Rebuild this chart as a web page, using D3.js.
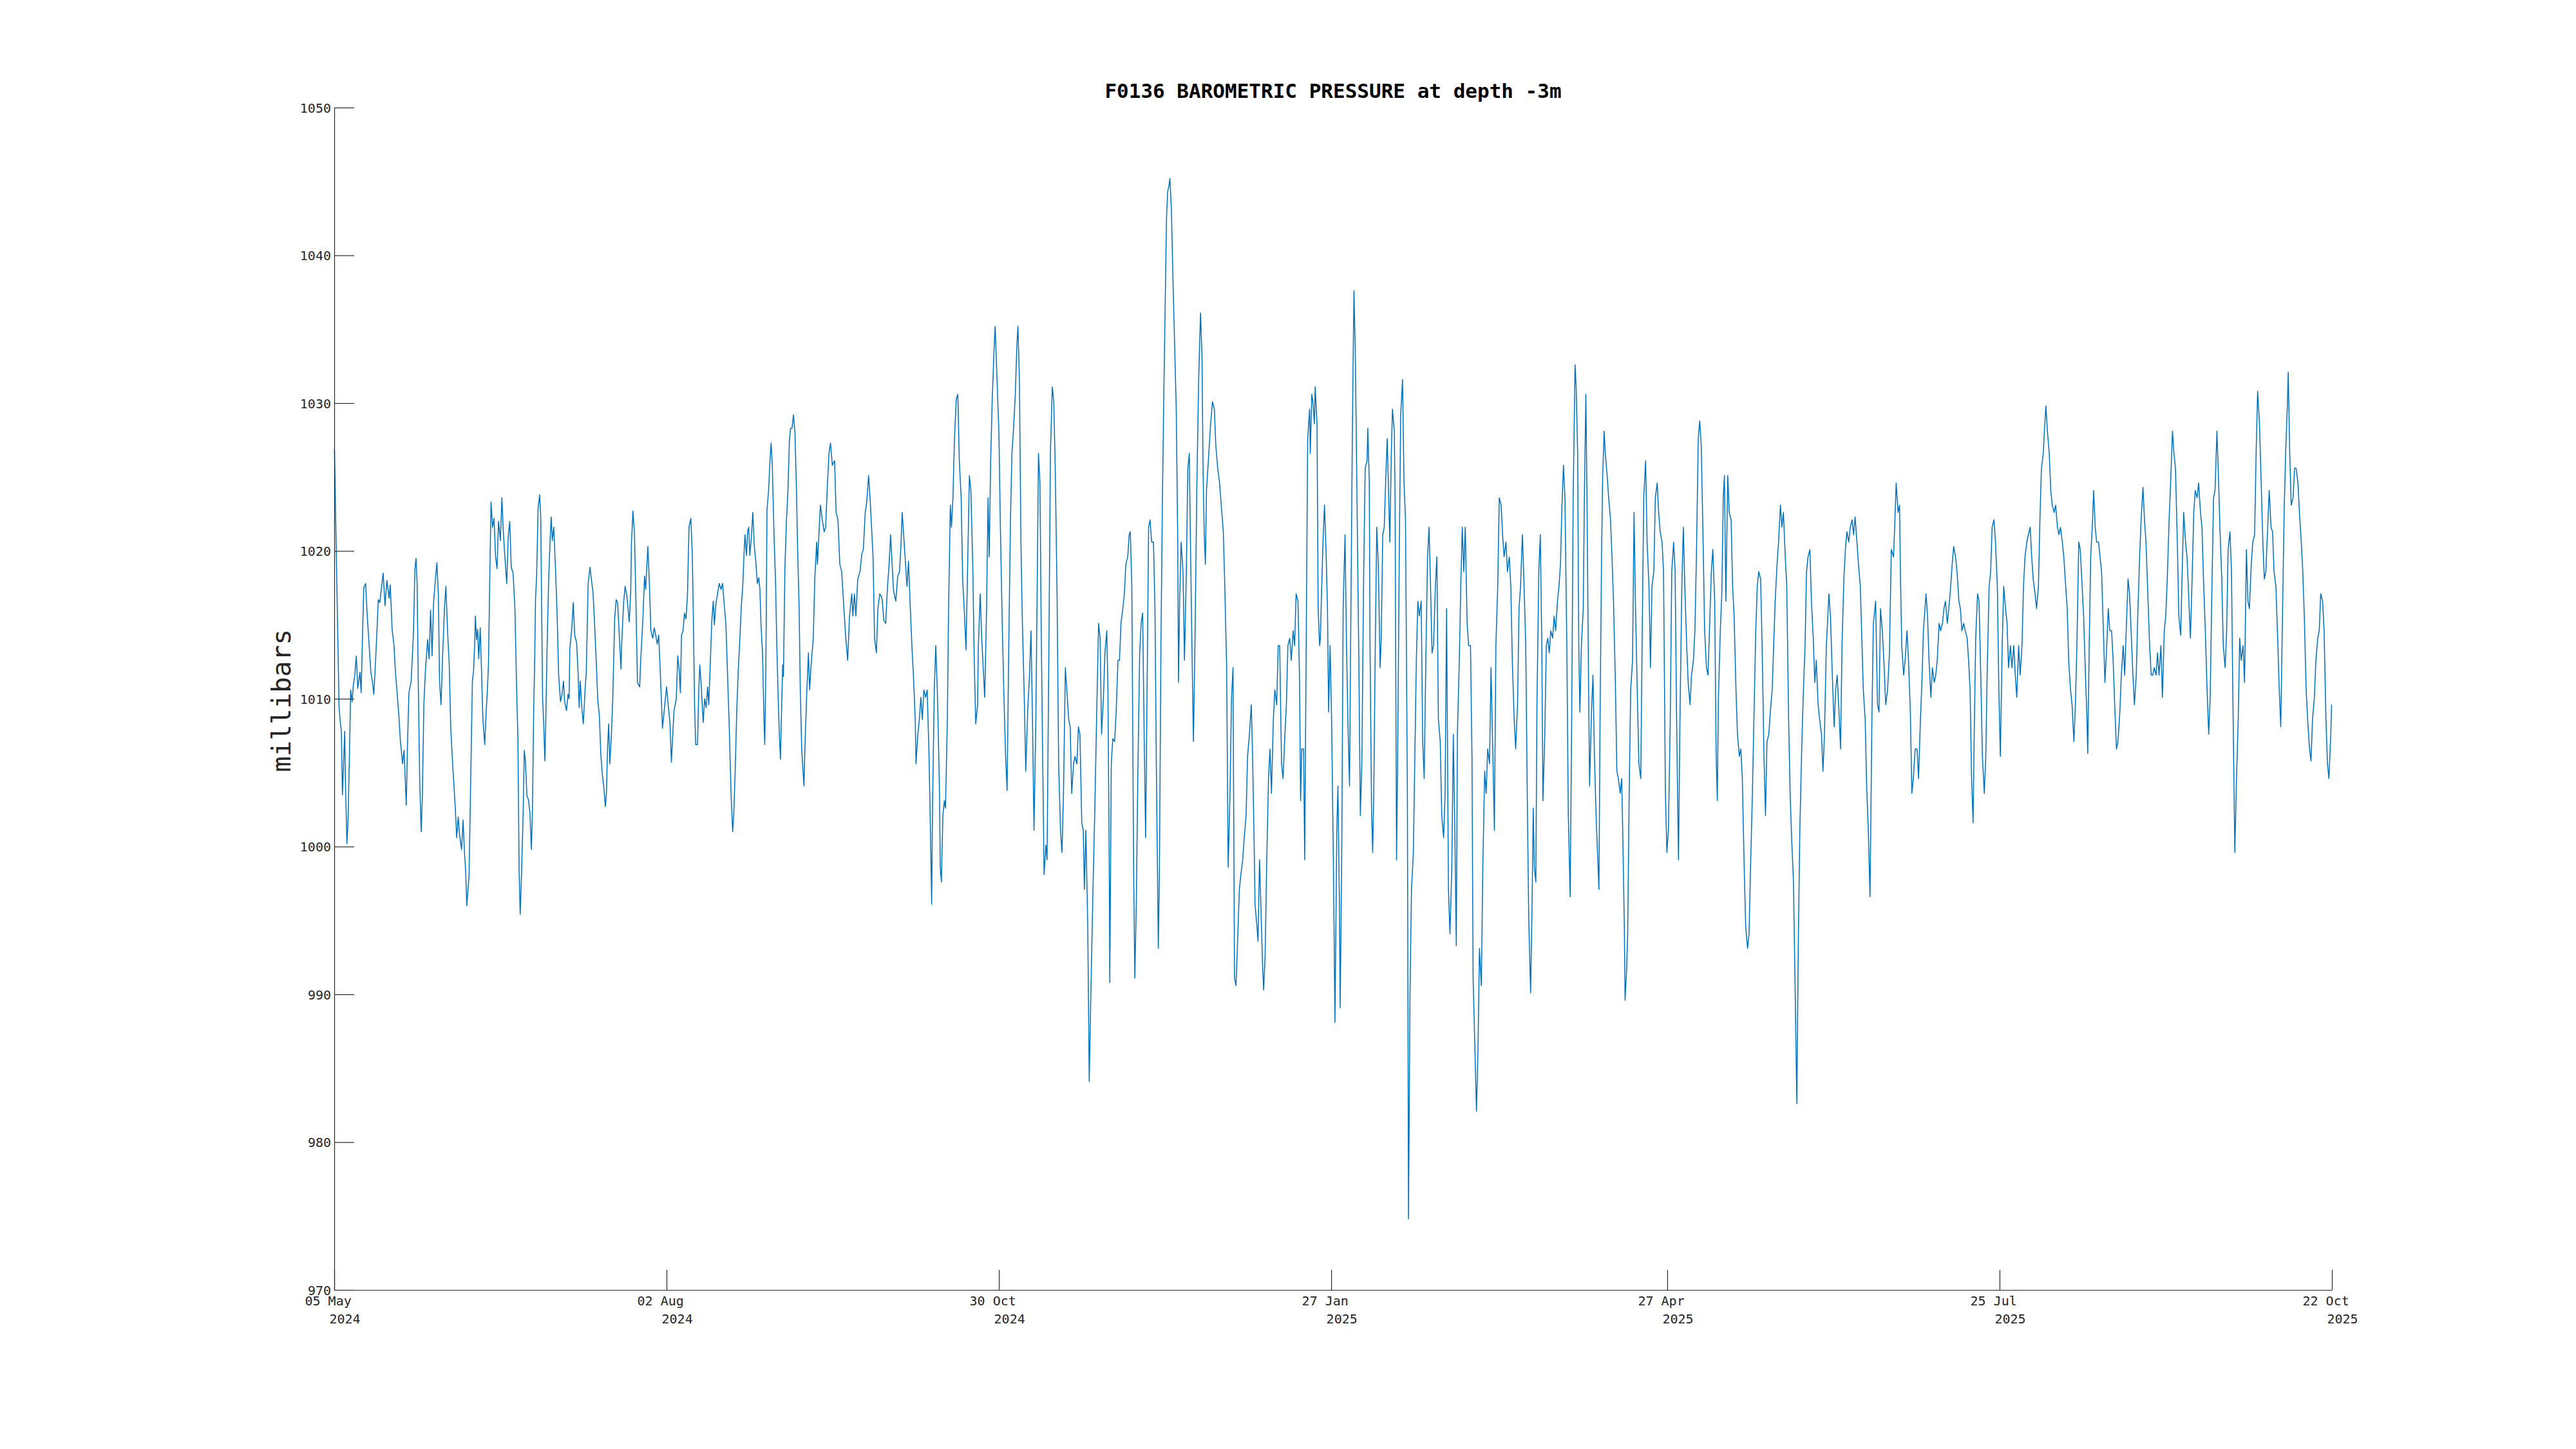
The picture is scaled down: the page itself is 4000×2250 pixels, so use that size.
<!DOCTYPE html>
<html>
<head>
<meta charset="utf-8">
<script src="https://cdn.jsdelivr.net/npm/d3@7"></script>
<style>
  body { margin: 0; background: #fff; }
  svg { display: block; background: #fff; }
</style>
</head>
<body>
<svg width="4000" height="2250"></svg>
<script>

// texts
var titleText = "F0136 BAROMETRIC PRESSURE at depth -3m";
var yLabelText = "millibars";

// x range and ticks (dates)
var startDate = "2024-05-05";
var endDate = "2025-10-22";
var tickDates = ["2024-05-05", "2024-08-02", "2024-10-30", "2025-01-27", "2025-04-27", "2025-07-25", "2025-10-22"];

// y ticks
var yTicks = [970, 980, 990, 1000, 1010, 1020, 1030, 1040, 1050];

// readings: [days since start, millibars]
var series = [
[0.06,1026.9],[0.75,1017],[1.3,1009.4],[1.6,1008.5],[1.9,1007.8],[2.2,1003.5],[2.5,1005.6],[2.8,1007.8],[3.0,1004.3],[3.4,1000.2],
[3.7,1001.8],[4.1,1006.5],[4.4,1010.6],[4.8,1009.8],[5.1,1010.9],[5.5,1011.6],[5.9,1012.9],[6.3,1010.7],[6.9,1011.8],[7.2,1010.4],
[7.5,1013.4],[7.9,1017.5],[8.4,1017.8],[8.8,1015.8],[9.4,1013.4],[9.8,1011.8],[10.2,1011.2],[10.6,1010.3],[11.1,1012.7],[11.8,1016.7],
[12.2,1016.5],[13.1,1018.5],[13.6,1016.3],[14.1,1018.0],[14.7,1016.8],[15.0,1017.7],[15.5,1014.7],[16.0,1013.6],[16.4,1011.8],[16.8,1010.5],
[17.3,1008.9],[17.7,1007.2],[18.3,1005.6],[18.7,1006.5],[19.3,1002.8],[19.6,1006.7],[20.0,1010.4],[20.6,1011.2],[21.2,1014.3],[21.6,1018.7],
[21.9,1019.5],[22.2,1017.8],[22.5,1011.2],[22.9,1004.3],[23.3,1001.0],[23.6,1003.4],[24.0,1009.6],[24.4,1011.8],[25.0,1014.0],[25.4,1012.7],
[25.8,1016.0],[26.2,1012.9],[26.6,1016.5],[27.0,1017.8],[27.5,1019.2],[27.9,1016.9],[28.2,1011.2],[28.6,1009.6],[29.0,1012.7],[29.5,1016.0],
[29.9,1017.6],[30.4,1014.3],[30.8,1012.3],[31.2,1008.0],[31.8,1005.2],[32.4,1002.7],[32.8,1000.6],[33.2,1002.0],[33.6,1000.7],[34.1,999.8],
[34.5,1001.8],[34.8,1000.0],[35.2,998.3],[35.5,996.0],[36.1,998.0],[36.4,1002.3],[37.0,1011.2],[37.3,1011.8],[37.6,1013.6],[37.8,1015.6],
[38.1,1014.0],[38.4,1014.7],[38.7,1012.7],[39.1,1014.8],[39.4,1012.3],[39.8,1008.7],[40.3,1006.9],[40.7,1009.2],[41.0,1010.5],[41.3,1012.3],
[41.7,1018.9],[42.0,1023.3],[42.4,1021.6],[42.8,1022.2],[43.2,1019.6],[43.6,1018.8],[44.0,1022.0],[44.5,1020.7],[44.9,1023.6],[45.3,1021.2],
[45.7,1019.6],[46.2,1017.8],[46.6,1021.0],[47.0,1022.0],[47.4,1018.9],[47.9,1018.5],[48.4,1016.0],[48.8,1011.2],[49.2,1007.2],[49.5,998.5],
[49.8,995.4],[50.2,998.5],[50.6,1002.3],[50.9,1006.5],[51.2,1005.8],[51.6,1003.4],[52.0,1003.2],[52.4,1002.3],[52.8,999.8],[53.1,1002.7],
[53.4,1008.9],[53.7,1012.9],[53.9,1016.7],[54.2,1018.3],[54.6,1022.9],[55.0,1023.8],[55.3,1022.3],[55.5,1017.4],[55.8,1010.0],[56.1,1008.3],
[56.4,1005.8],[56.6,1007.8],[57.0,1013.4],[57.4,1017.8],[57.8,1020.7],[58.1,1022.3],[58.4,1020.7],[58.8,1021.6],[59.3,1018.5],[59.7,1015.6],
[60.1,1011.6],[60.6,1009.8],[61.0,1010.3],[61.4,1011.2],[61.7,1009.8],[62.2,1009.2],[62.6,1010.3],[62.9,1010.0],[63.1,1013.4],[63.6,1014.7],
[64.0,1016.5],[64.4,1014.3],[64.9,1013.8],[65.3,1011.8],[65.6,1009.4],[65.9,1011.2],[66.3,1009.4],[66.7,1008.3],[67.2,1010.7],[67.5,1011.8],
[68.0,1017.8],[68.5,1018.9],[68.9,1018.0],[69.3,1017.2],[69.7,1015.2],[70.2,1012.3],[70.6,1009.8],[71.0,1008.9],[71.4,1006.2],[71.8,1004.9],
[72.2,1004.0],[72.6,1002.7],[72.9,1003.6],[73.2,1006.7],[73.5,1008.3],[73.8,1005.6],[74.2,1007.4],[74.6,1010.0],[75.1,1015.4],[75.5,1016.7],
[75.9,1016.5],[76.4,1014.0],[76.8,1012.0],[77.0,1013.8],[77.5,1016.5],[77.9,1017.6],[78.4,1016.9],[79.0,1015.2],[79.4,1017.2],[79.6,1020.5],
[80.0,1022.7],[80.4,1021.2],[80.8,1016.5],
[81.2,1011.1],[81.8,1010.8],[82.1,1012.7],[82.7,1015.6],[83.1,1018.3],[83.4,1017.4],[83.7,1018.9],[84.0,1020.3],[84.4,1017.8],[84.8,1014.6],
[85.3,1014.1],[85.7,1014.8],[86.1,1014.3],[86.5,1013.7],[86.9,1014.3],[87.3,1011.9],[87.6,1010.0],[87.9,1008.0],[88.3,1009.0],[88.6,1009.8],
[89.0,1010.8],[89.5,1009.4],[89.9,1008.4],[90.3,1005.7],[90.7,1007.8],[91.0,1009.2],[91.6,1010.0],[92.0,1012.9],[92.4,1011.9],[92.7,1010.4],
[93.0,1014.3],[93.4,1014.6],[93.8,1015.8],[94.2,1015.4],[94.6,1017.0],[95.0,1021.6],[95.5,1022.2],[95.9,1019.7],[96.2,1015.0],[96.5,1009.6],
[96.8,1006.9],[97.3,1006.9],[97.6,1010.4],[97.9,1012.3],[98.3,1010.8],[98.8,1008.4],[99.2,1010.0],[99.6,1009.4],[100.0,1010.8],[100.3,1009.6],
[100.7,1012.3],[101.1,1015.2],[101.5,1016.6],[101.8,1015.0],[102.2,1016.4],[102.6,1017.0],[103.1,1017.8],[103.6,1017.4],[104.0,1017.8],[104.5,1016.2],
[104.9,1015.0],[105.4,1011.1],[105.8,1008.0],[106.3,1003.4],[106.7,1001.0],[107.0,1002.2],[107.4,1005.3],[107.8,1009.2],[108.2,1011.9],[108.6,1013.9],
[109.0,1016.2],[109.4,1017.6],[109.8,1020.1],[110.0,1021.1],[110.4,1019.7],[110.7,1021.3],[111.0,1021.6],[111.3,1019.7],[111.7,1020.9],[112.1,1022.6],
[112.5,1020.3],[112.9,1019.3],[113.3,1017.8],[113.7,1018.2],[114.0,1017.4],[114.3,1015.0],[114.7,1013.1],[115.1,1008.4],[115.3,1006.9],[115.6,1012.3],
[115.9,1022.8],[116.3,1024.0],[116.7,1026.1],[117.0,1027.3],[117.3,1025.9],[117.8,1020.9],[118.2,1017.8],[118.5,1013.9],[118.9,1010.0],[119.2,1007.6],
[119.5,1005.9],[119.8,1009.2],[120.1,1012.3],[120.3,1011.5],[120.7,1018.9],[121.1,1022.0],[121.5,1024.0],[121.9,1027.5],[122.2,1028.3],[122.6,1028.3],
[123.0,1029.2],[123.4,1027.9],[123.8,1024.0],[124.1,1020.1],[124.5,1016.2],[124.8,1010.8],[125.2,1006.5],[125.5,1005.3],[125.8,1004.1],
[126.1,1007.1],[126.5,1010.1],[127.0,1013.1],[127.3,1010.6],[127.8,1012.6],[128.3,1014.1],[128.7,1018.1],[129.2,1020.6],[129.4,1019.1],[129.8,1021.1],
[130.2,1023.1],[130.7,1022.1],[131.2,1021.3],[131.6,1021.6],[132.1,1024.6],[132.5,1026.6],[132.9,1027.3],[133.4,1025.8],[134.0,1026.1],[134.4,1022.6],
[134.9,1022.1],[135.4,1019.1],[135.9,1018.6],[136.5,1016.1],[137.0,1014.1],[137.5,1012.6],[138.0,1015.6],[138.6,1017.1],[138.9,1015.6],[139.3,1017.1],
[139.7,1015.6],[140.2,1018.1],[140.8,1018.6],[141.3,1019.8],[141.7,1020.1],[142.2,1022.6],[142.6,1023.3],[143.1,1025.1],[143.5,1023.6],[143.9,1021.6],
[144.3,1019.6],[144.7,1014.1],[145.2,1013.1],[145.6,1016.1],[146.1,1017.1],[146.7,1016.8],[147.2,1015.3],[147.7,1015.1],[148.1,1017.3],[148.6,1019.1],
[149.0,1021.1],[149.4,1019.1],[149.8,1017.3],[150.4,1016.6],[150.9,1018.3],[151.4,1018.6],[151.8,1020.6],[152.1,1022.6],[152.5,1021.1],[153.0,1019.1],
[153.4,1017.6],[153.8,1019.3],[154.2,1016.6],[154.7,1013.6],[155.1,1011.6],[155.6,1008.6],[155.8,1005.6],[156.3,1007.6],[156.7,1008.6],[157.1,1010.1],
[157.5,1008.6],[157.9,1010.6],[158.4,1010.1],[158.8,1010.6],[159.3,1006.1],[159.7,1000.6],[160.0,996.1],[160.2,1002.1],[160.7,1010.6],[161.1,1013.6],
[161.5,1010.6],[161.7,1008.6],[162.1,1003.6],[162.3,998.6],[162.6,997.6],[163.0,1002.1],[163.4,1003.1],[163.7,1002.6],[164.2,1008.6],[164.5,1015.6],
[165.0,1023.1],[165.3,1021.6],[165.7,1023.6],[166.1,1027.6],[166.6,1030.3],[167.0,1030.6],[167.4,1026.1],[167.9,1023.6],[168.3,1018.1],[168.8,1015.6],
[169.2,1013.3],[169.6,1018.6],[170.1,1025.1],[170.5,1024.1],[171.0,1019.1],[171.4,1012.6],[171.8,1008.3],[172.3,1009.6],[172.5,1013.6],[173.0,1017.1],
[173.4,1014.1],[173.9,1011.6],[174.2,1010.1],[174.7,1016.1],[175.1,1023.6],[175.4,1019.6],[175.8,1026.1],[176.2,1030.1],[176.7,1033.6],[177.0,1035.2],
[177.5,1031.6],[178.0,1028.1],[178.4,1021.6],[178.9,1015.1],[179.3,1010.6],[179.8,1006.1],[180.2,1003.8],[180.6,1012.6],[181.1,1022.1],[181.5,1026.6],
[182.0,1028.6],[182.4,1030.6],[182.8,1033.8],[183.1,1035.2],[183.5,1031.6],[183.9,1020.6],[184.3,1015.1],[184.8,1010.1],[185.2,1005.1],[185.7,1009.1],
[186.2,1011.6],[186.6,1014.6],[187.0,1008.6],[187.4,1001.1],[187.9,1008.6],[188.3,1018.6],[188.6,1026.6],[189.0,1024.6],[189.3,1015.6],[189.7,1006.6],
[190.1,998.1],[190.6,1000.1],[190.9,999.1],[191.4,1013.6],[191.8,1026.6],[192.3,1031.1],[192.7,1030.1],[193.1,1025.6],[193.6,1016.6],[194.0,1005.6],
[194.5,1001.1],[194.9,999.6],[195.3,1003.6],[195.8,1012.1],[196.2,1010.6],[196.7,1008.6],[197.1,1008.1],[197.5,1003.6],[198.0,1005.6],[198.4,1006.1],
[198.9,1005.6],[199.3,1008.1],[199.7,1007.6],[200.2,1001.6],[200.6,1001.1],[200.9,997.1],[201.3,1001.1],[201.8,994.6],[202.2,984.1],[202.6,989.6],
[203.2,997.1],[203.7,1002.6],[204.2,1009.1],[204.7,1015.1],[205.1,1014.1],[205.5,1007.6],[206.0,1010.1],[206.4,1013.1],[206.9,1014.6],[207.2,1010.6],
[207.6,997.1],[207.7,990.8],[208.1,1005.6],[208.5,1007.3],[209.0,1007.1],[209.4,1009.1],[209.9,1012.6],[210.3,1012.6],[210.7,1015.1],[211.2,1016.1],
[211.6,1017.1],[212.0,1019.1],[212.5,1019.6],[212.9,1021.1],[213.2,1021.3],[213.6,1017.6],[214.1,998.1],[214.4,991.1],[214.8,996.1],[215.2,1004.6],
[215.7,1013.1],[216.1,1015.1],[216.5,1015.8],[216.9,1007.6],[217.3,1000.6],[217.8,1013.6],[218.1,1021.6],[218.5,1022.1],[218.9,1020.6],[219.4,1020.6],
[219.8,1016.1],[220.2,1004.6],[220.7,993.1],[221.0,998.6],[221.4,1013.6],[221.8,1023.6],[222.2,1031.1],[222.5,1036.1],[222.9,1042.6],[223.2,1044.3],
[223.6,1044.8],[223.8,1045.2],[224.2,1043.1],[224.6,1038.6],[225.1,1033.6],[225.5,1029.6],[225.9,1020.6],[226.1,1011.1],[226.4,1016.6],[226.8,1020.6],
[227.3,1018.6],[227.7,1012.6],[228.2,1018.6],[228.6,1025.6],[229.0,1026.6],[229.3,1020.6],[229.7,1013.6],[230.1,1007.1],[230.5,1013.6],[231.0,1024.1],
[231.5,1031.6],[232.0,1036.1],[232.4,1033.1],[232.7,1025.1],[233.0,1021.1],[233.3,1019.1],[233.6,1024.1],[234.1,1026.1],[234.7,1028.6],[235.2,1030.1],
[235.7,1029.6],[236.1,1027.1],[236.6,1025.6],[237.1,1024.6],[237.7,1022.6],[238.1,1021.3],[238.5,1017.6],[239.0,1012.1],[239.4,998.6],[239.9,1003.6],
[240.3,1010.1],[240.7,1012.1],[241.1,991.1],[241.5,990.6],[242.0,994.1],[242.4,997.1],[242.8,998.1],[243.3,999.1],[243.7,1000.6],[244.2,1002.1],
[244.6,1006.1],[245.1,1007.6],[245.6,1009.6],[245.9,1006.6],[246.3,1001.1],[246.6,996.1],[247.1,994.6],[247.4,993.6],[247.8,999.1],[248.1,996.6],
[248.6,992.1],[248.9,990.3],[249.3,992.6],[249.7,998.6],[250.2,1004.6],[250.6,1006.6],[251.0,1003.6],[251.5,1008.6],[251.9,1010.6],[252.4,1009.6],
[252.8,1013.6],[253.2,1013.6],[253.7,1005.6],[254.1,1004.6],[254.6,1007.6],[255.0,1009.6],[255.4,1013.6],[255.9,1014.1],[256.3,1012.6],[256.8,1014.6],
[257.2,1013.6],[257.6,1017.1],[258.1,1016.6],[258.5,1011.6],[258.8,1003.1],[259.1,1006.6],[259.6,1006.6],[259.9,999.1],[260.3,1013.6],[260.7,1027.6],
[261.2,1029.6],[261.4,1026.6],[261.8,1030.6],[262.1,1030.1],[262.5,1028.6],[262.7,1031.1],[263.2,1028.6],[263.5,1016.1],[263.9,1013.6],
[264.1,1014.1],[264.3,1016.1],[264.8,1020.6],[265.2,1023.1],[265.6,1020.1],[266.0,1016.1],[266.3,1009.1],[266.7,1013.6],[267.1,1008.6],[267.6,998.6],
[268.0,988.1],[268.5,1001.1],[268.8,1004.1],[269.2,996.1],[269.4,989.1],[269.8,998.6],[270.2,1016.1],[270.7,1021.1],[271.1,1013.6],[271.5,1008.1],
[271.9,1004.1],[272.2,1013.6],[272.6,1026.1],[272.9,1033.6],[273.1,1037.6],[273.5,1032.6],[273.9,1023.6],[274.4,1012.6],[274.8,1002.1],[275.2,1005.6],
[275.7,1018.6],[276.1,1025.6],[276.6,1026.1],[276.8,1028.3],[277.2,1024.6],[277.4,1013.6],[277.8,1002.6],[278.1,999.6],[278.4,1003.6],[278.8,1013.6],
[279.2,1021.6],[279.6,1019.1],[280.1,1012.1],[280.4,1014.1],[280.8,1021.1],[281.2,1021.6],[281.7,1025.6],[282.0,1027.6],[282.4,1023.6],[282.7,1020.6],
[283.1,1026.6],[283.4,1029.6],[283.9,1028.1],[284.1,1023.6],[284.5,999.1],[284.8,1006.1],[285.2,1019.1],[285.6,1029.1],[286.1,1031.6],[286.5,1024.6],
[286.9,1022.1],[287.4,1003.6],[287.7,974.8],[288.1,990.1],[288.5,997.1],[289.0,999.6],[289.4,1006.1],[289.8,1012.6],[290.2,1016.6],[290.6,1015.6],
[291.1,1016.6],[291.5,1007.1],[291.9,1004.6],[292.4,1013.6],[292.8,1019.6],[293.2,1021.6],[293.6,1017.6],[294.0,1013.1],[294.4,1013.6],[294.9,1017.6],
[295.3,1019.6],[295.7,1008.6],[296.2,1007.1],[296.6,1002.1],[297.1,1000.6],[297.5,1003.6],[297.9,1016.1],[298.4,997.1],[298.8,994.1],[299.3,998.6],
[299.7,1007.6],[300.1,1001.1],[300.5,993.3],[300.8,1007.6],[301.3,1012.6],[301.7,1017.6],[302.1,1021.6],[302.5,1018.6],[302.9,1021.6],[303.4,1015.1],
[303.8,1013.6],[304.3,1013.6],[304.7,1006.1],[305.0,991.1],[305.4,987.1],[305.9,982.1],[306.3,986.1],[306.7,993.1],[307.2,990.6],[307.6,998.6],
[308.1,1005.1],[308.5,1003.6],[308.9,1006.6],[309.4,1005.6],[309.8,1012.1],[310.3,1006.1],[310.7,1001.1],[311.1,1013.6],[311.6,1017.6],[312.0,1023.6],
[312.5,1023.1],[312.9,1021.1],[313.3,1019.6],[313.8,1020.6],[314.2,1018.6],[314.7,1019.6],[315.1,1017.6],[315.5,1012.6],[316.0,1008.6],[316.4,1006.6],
[316.9,1009.6],[317.3,1016.1],[317.7,1017.6],[318.2,1021.1],[318.6,1018.1],[319.1,1013.6],[319.5,1003.6],[319.9,995.1],[320.4,990.1],[320.8,996.1],
[321.1,1002.6],[321.4,998.6],[321.8,997.6],[322.1,1009.6],[322.6,1018.6],[323.0,1021.1],[323.4,1013.6],[323.7,1003.1],[324.2,1007.6],[324.6,1013.6],
[325.0,1014.1],[325.4,1013.1],[325.8,1014.6],[326.3,1014.1],[326.7,1015.6],[327.1,1014.6],[327.6,1016.6],[328.0,1017.6],[328.4,1019.1],[328.8,1023.1],
[329.2,1025.8],[329.6,1023.6],[330.1,1013.6],[330.5,1002.1],[331.0,996.6],[331.4,1008.6],[331.8,1023.6],[332.3,1032.6],[332.6,1031.1],[333.0,1026.6],
[333.3,1013.6],[333.6,1009.1],[334.0,1013.6],[334.5,1016.1],[334.8,1023.6],[335.2,1030.6],[335.5,1023.6],[335.9,1011.6],[336.2,1004.1],[336.7,1009.1],
[337.1,1011.6],[337.5,1006.1],[338.0,1001.6],[338.4,999.1],[338.7,997.1],[339.0,1008.6],[339.4,1019.6],[339.7,1025.1],[340.1,1028.1],[340.4,1026.6],
[340.9,1025.1],[341.3,1023.6],[341.8,1022.1],[342.2,1019.6],[342.6,1016.6],[343.1,1011.1],[343.5,1005.1],[343.9,1004.6],[344.4,1003.6],[344.8,1004.6],
[345.1,1000.6],[345.5,994.6],[345.7,989.6],[346.1,991.6],[346.4,994.1],[346.8,1003.6],[347.2,1010.6],[347.7,1012.6],[348.1,1022.6],[348.5,1016.1],
[349.0,1010.1],[349.4,1005.6],[349.9,1004.6],[350.3,1014.6],[350.7,1023.6],[351.2,1026.1],[351.6,1020.6],[352.1,1017.6],[352.5,1012.1],[352.9,1017.6],
[353.4,1018.6],[353.8,1023.6],[354.3,1024.6],[354.7,1022.6],[355.1,1021.3],[355.6,1020.6],[356.0,1018.6],[356.5,1003.6],[356.9,999.6],[357.3,1001.1],
[357.8,1008.6],[358.2,1018.6],[358.7,1020.6],[359.1,1018.6],[359.5,1008.6],[360.0,999.1],[360.4,1008.6],[360.9,1017.6],[361.3,1021.6],[361.7,1017.6],
[362.2,1013.6],[362.6,1011.1],[363.1,1009.6],[363.5,1011.6],[364.0,1012.6],[364.4,1014.6],[364.8,1019.6],[365.3,1027.6],[365.7,1028.8],[366.1,1027.1],
[366.6,1020.6],[367.0,1014.6],[367.5,1012.1],[367.9,1011.6],[368.3,1014.6],[368.8,1018.6],[369.2,1020.1],[369.7,1016.6],[370.1,1006.1],[370.4,1003.1],
[370.7,1010.1],[371.2,1014.6],[371.6,1017.1],[372.0,1023.6],[372.3,1025.1],[372.7,1016.6],[373.2,1025.1],[373.6,1022.6],[374.1,1022.1],[374.5,1017.6],
[374.9,1015.6],[375.4,1010.6],[375.8,1007.6],[376.3,1006.1],[376.7,1006.6],[377.1,1004.6],[377.6,998.6],[378.0,994.6],[378.5,993.1],[378.9,994.1],
[379.3,998.6],[379.8,1003.6],[380.2,1008.6],[380.7,1014.6],[381.1,1017.6],[381.5,1018.6],[382.0,1018.1],[382.4,1013.6],[382.9,1006.1],[383.3,1002.1],
[383.7,1007.1],[384.2,1007.6],[384.6,1009.1],[385.1,1010.6],[385.5,1013.6],[385.9,1016.6],[386.4,1019.1],[386.8,1020.6],[387.3,1023.1],[387.7,1021.6],
[388.1,1022.6],[388.6,1019.6],[389.0,1017.6],[389.5,1008.6],[389.9,1003.6],[390.3,1000.6],[390.8,997.6],[391.2,991.1],[391.7,982.6],[392.1,993.6],
[392.5,1001.1],[393.0,1006.6],[393.4,1010.1],[393.9,1013.6],[394.3,1018.6],[394.7,1019.6],[395.2,1020.1],[395.6,1016.6],[396.1,1014.1],[396.5,1011.1],
[396.9,1012.6],[397.4,1009.6],[397.8,1008.6],[398.3,1007.6],[398.7,1005.1],[399.1,1007.6],[399.6,1013.6],[400.0,1015.6],
[400.3,1017.1],[400.7,1015.6],[401.2,1011.6],[401.7,1008.1],[402.1,1010.6],[402.5,1011.6],[403.0,1009.1],[403.4,1006.6],[403.8,1013.6],[404.3,1018.1],
[404.7,1020.1],[405.1,1021.3],[405.6,1020.6],[406.0,1021.6],[406.5,1022.1],[406.9,1021.1],[407.3,1022.3],[407.8,1020.6],[408.2,1019.1],[408.7,1017.6],
[409.1,1014.1],[409.5,1010.6],[410.0,1008.6],[410.4,1004.1],[410.9,1000.6],[411.3,996.6],[411.8,1008.6],[412.2,1015.1],[412.8,1016.6],[413.3,1009.6],
[413.7,1009.1],[414.1,1016.1],[414.6,1014.6],[415.1,1012.1],[415.5,1009.6],[416.0,1010.6],[416.5,1013.1],[417.0,1020.1],[417.6,1019.6],[417.9,1021.6],
[418.3,1024.6],[418.8,1022.6],[419.2,1023.1],[419.5,1017.6],[419.8,1013.6],[420.3,1011.6],[420.7,1012.6],[421.2,1014.6],[421.6,1012.6],[422.1,1009.1],
[422.5,1003.6],[422.9,1004.6],[423.4,1006.6],[423.9,1006.6],[424.3,1004.6],[424.8,1008.6],[425.2,1011.1],[425.6,1014.6],[426.3,1017.1],[426.7,1015.6],
[427.1,1012.6],[427.6,1010.1],[428.0,1012.1],[428.5,1011.1],[428.9,1011.6],[429.3,1012.6],[429.8,1015.1],[430.2,1014.6],[430.7,1015.1],[431.1,1016.1],
[431.5,1016.6],[432.0,1015.1],[432.4,1016.1],[432.9,1017.6],[433.3,1019.1],[433.7,1020.3],[434.2,1019.6],[434.6,1018.6],[435.1,1016.6],[435.5,1016.1],
[435.9,1014.6],[436.4,1015.1],[436.8,1014.6],[437.3,1014.1],[437.7,1012.6],[438.1,1010.6],[438.5,1004.6],[438.9,1001.6],[439.2,1007.6],[439.6,1014.1],
[440.1,1017.1],[440.5,1016.6],[441.0,1011.1],[441.4,1006.1],[441.9,1003.6],[442.3,1006.1],[442.7,1012.1],[443.2,1017.6],[443.6,1018.6],[444.0,1021.6],
[444.5,1022.1],[444.9,1020.6],[445.4,1017.6],[445.8,1010.6],[446.2,1006.1],[446.7,1013.6],[447.1,1017.6],[447.6,1016.1],[448.0,1015.1],[448.4,1012.1],
[448.9,1013.6],[449.3,1012.1],[449.8,1013.6],[450.2,1011.6],[450.6,1010.1],[451.1,1013.6],[451.5,1011.6],[452.0,1013.6],[452.4,1017.6],[452.8,1019.6],
[453.3,1020.6],[453.7,1021.1],[454.2,1021.6],[454.6,1019.6],[455.0,1018.1],[455.5,1017.1],[455.9,1016.1],[456.4,1017.6],[456.8,1022.1],[457.2,1025.6],
[457.7,1026.6],[458.1,1028.6],[458.4,1029.8],[458.8,1028.1],[459.3,1026.6],[459.7,1024.1],[460.1,1023.1],[460.6,1022.6],[461.0,1023.1],[461.5,1021.6],
[461.9,1021.1],[462.3,1021.6],[462.8,1020.6],[463.2,1019.6],[463.7,1017.6],[464.1,1016.1],[464.5,1012.6],[465.0,1010.6],[465.4,1009.6],[465.9,1007.1],
[466.3,1009.6],[466.7,1013.6],[467.2,1020.6],[467.6,1020.1],[468.1,1017.6],[468.5,1015.6],[469.0,1011.6],[469.4,1008.6],[469.6,1006.3],[470.0,1013.6],
[470.4,1019.6],[470.9,1022.1],[471.2,1024.1],[471.6,1021.6],[472.0,1020.6],[472.5,1020.6],[472.9,1019.6],[473.3,1018.6],[473.8,1014.6],[474.2,1011.1],
[474.7,1013.6],[475.1,1016.1],[475.5,1014.6],[476.0,1014.6],[476.4,1012.6],[476.9,1009.1],[477.3,1006.6],[477.7,1007.1],[478.2,1009.1],[478.6,1011.6],
[479.1,1013.6],[479.5,1011.6],[479.9,1014.6],[480.4,1018.1],[480.8,1017.1],[481.3,1014.1],[481.7,1011.6],[482.1,1009.6],[482.6,1011.6],[483.0,1015.6],
[483.5,1019.6],[483.9,1022.1],[484.4,1024.3],[484.8,1022.1],[485.2,1020.6],[485.7,1017.1],[486.1,1014.1],[486.6,1011.6],[487.0,1011.6],[487.4,1012.1],
[487.9,1011.6],[488.3,1013.1],[488.7,1011.6],[489.2,1013.6],[489.6,1010.1],[490.1,1014.6],[490.5,1015.6],[490.9,1018.1],[491.4,1022.1],[491.8,1024.6],
[492.3,1028.1],[492.7,1026.6],[493.1,1025.6],[493.6,1020.6],[494.0,1015.6],[494.5,1014.3],[494.9,1018.6],[495.3,1022.6],[495.8,1020.6],[496.2,1019.6],
[496.7,1016.6],[497.1,1014.1],[497.5,1017.6],[498.0,1022.6],[498.4,1024.1],[498.9,1023.6],[499.3,1024.6],[499.8,1022.6],[500.2,1021.6],[500.6,1018.1],
[501.1,1014.6],[501.5,1011.1],[502.0,1007.6],[502.4,1010.1],[502.8,1016.6],[503.3,1023.6],[503.7,1024.1],[504.2,1028.1],[504.6,1025.1],[505.0,1021.6],
[505.5,1018.1],[505.9,1013.6],[506.4,1012.1],[506.8,1014.6],[507.2,1020.1],[507.7,1021.3],[508.1,1018.6],[508.5,1009.6],[509.0,999.6],[509.4,1004.1],
[509.9,1008.6],[510.3,1014.1],[510.7,1012.6],[511.2,1013.6],[511.6,1011.1],[512.1,1020.1],[512.5,1016.6],[512.9,1016.1],[513.4,1019.1],[513.8,1020.6],
[514.3,1021.1],[514.7,1026.6],[515.1,1030.8],[515.6,1028.6],[516.0,1025.1],[516.5,1020.6],[516.9,1018.1],[517.3,1018.6],[517.8,1021.6],[518.2,1024.1],
[518.7,1021.6],[519.1,1021.3],[519.5,1018.6],[520.0,1017.6],[520.4,1014.6],[520.9,1010.6],[521.3,1008.1],[521.7,1014.6],[522.2,1022.6],[522.6,1026.6],
[523.1,1030.1],[523.3,1032.1],[523.7,1026.6],[524.1,1023.1],[524.6,1023.6],[525.0,1025.6],[525.4,1025.6],[525.9,1024.6],[526.3,1022.6],[526.8,1020.6],
[527.2,1018.6],[527.6,1015.6],[528.1,1010.6],[528.5,1008.6],[529.0,1006.6],[529.4,1005.8],[529.8,1008.6],[530.3,1010.1],[530.7,1012.6],[531.2,1014.1],
[531.6,1014.6],[532.0,1017.1],[532.5,1016.6],[532.9,1014.6],[533.4,1008.6],[533.8,1005.6],[534.2,1004.6],[534.7,1007.6],[534.9,1009.6]
];

var svg = d3.select("svg"),
    width = +svg.attr("width"),
    height = +svg.attr("height");

var margin = {left: 519, right: 379, top: 167, bottom: 247};
var monoFont = "'DejaVu Sans Mono', 'Liberation Mono', monospace";
var axisColour = "#262626";

var parseDay = d3.utcParse("%Y-%m-%d");
var t0 = parseDay(startDate);

// turn day offsets into dates
var readings = series.map(function(d) {
    return {date: new Date(t0.getTime() + d[0] * 864e5), value: d[1]};
});

var x = d3.scaleUtc()
    .domain([t0, parseDay(endDate)])
    .range([margin.left, width - margin.right]);

var y = d3.scaleLinear()
    .domain([yTicks[0], yTicks[yTicks.length - 1]])
    .range([height - margin.bottom, margin.top]);

//the data line
var line = d3.line()
    .x(function(d) { return x(d.date); })
    .y(function(d) { return y(d.value); });

svg.append("path")
    .datum(readings)
    .attr("fill", "none")
    .attr("stroke", "#0072BD")
    .attr("stroke-width", 1.5)
    .attr("stroke-linejoin", "round")
    .attr("d", line);

//y axis, ticks pointing inwards
var yAxis = svg.append("g")
    .attr("transform", "translate(" + margin.left + ",0)")
    .call(d3.axisLeft(y)
        .tickValues(yTicks)
        .tickSizeInner(-31)
        .tickSizeOuter(0)
        .tickPadding(5)
        .tickFormat(d3.format("d")));

yAxis.attr("font-family", monoFont).attr("font-size", 20).style("color", axisColour);
yAxis.selectAll("line, path").attr("stroke-width", 1.2);
yAxis.selectAll("text").attr("dy", "0.35em");

//x axis with two line date labels
var fmtDay = d3.utcFormat("%d %b"),
    fmtYear = d3.utcFormat("%Y");

var xAxis = svg.append("g")
    .attr("transform", "translate(0," + (height - margin.bottom) + ")")
    .call(d3.axisBottom(x)
        .tickValues(tickDates.map(parseDay))
        .tickSizeInner(-31)
        .tickSizeOuter(0)
        .tickFormat(""));

xAxis.attr("font-family", monoFont).attr("font-size", 20).style("color", axisColour);
xAxis.selectAll("line, path").attr("stroke-width", 1.2);

var xText = xAxis.selectAll(".tick text")
    .attr("y", 0)
    .attr("dy", null)
    .attr("text-anchor", "start");

xText.append("tspan")
    .attr("x", -46)
    .attr("y", 24)
    .text(function(d) { return fmtDay(d); });

xText.append("tspan")
    .attr("x", -8)
    .attr("y", 52)
    .text(function(d) { return fmtYear(d); });

//title
svg.append("text")
    .attr("x", (margin.left + width - margin.right) / 2)
    .attr("y", 152)
    .attr("text-anchor", "middle")
    .style("font-family", monoFont)
    .style("font-weight", "bold")
    .style("font-size", "31px")
    .style("fill", "#000")
    .text(titleText);

//y label
svg.append("text")
    .attr("transform", "translate(451," + ((margin.top + height - margin.bottom) / 2 + 3) + ") rotate(-90)")
    .attr("text-anchor", "middle")
    .style("font-family", monoFont)
    .style("font-size", "41px")
    .style("fill", axisColour)
    .text(yLabelText);

</script>
</body>
</html>
